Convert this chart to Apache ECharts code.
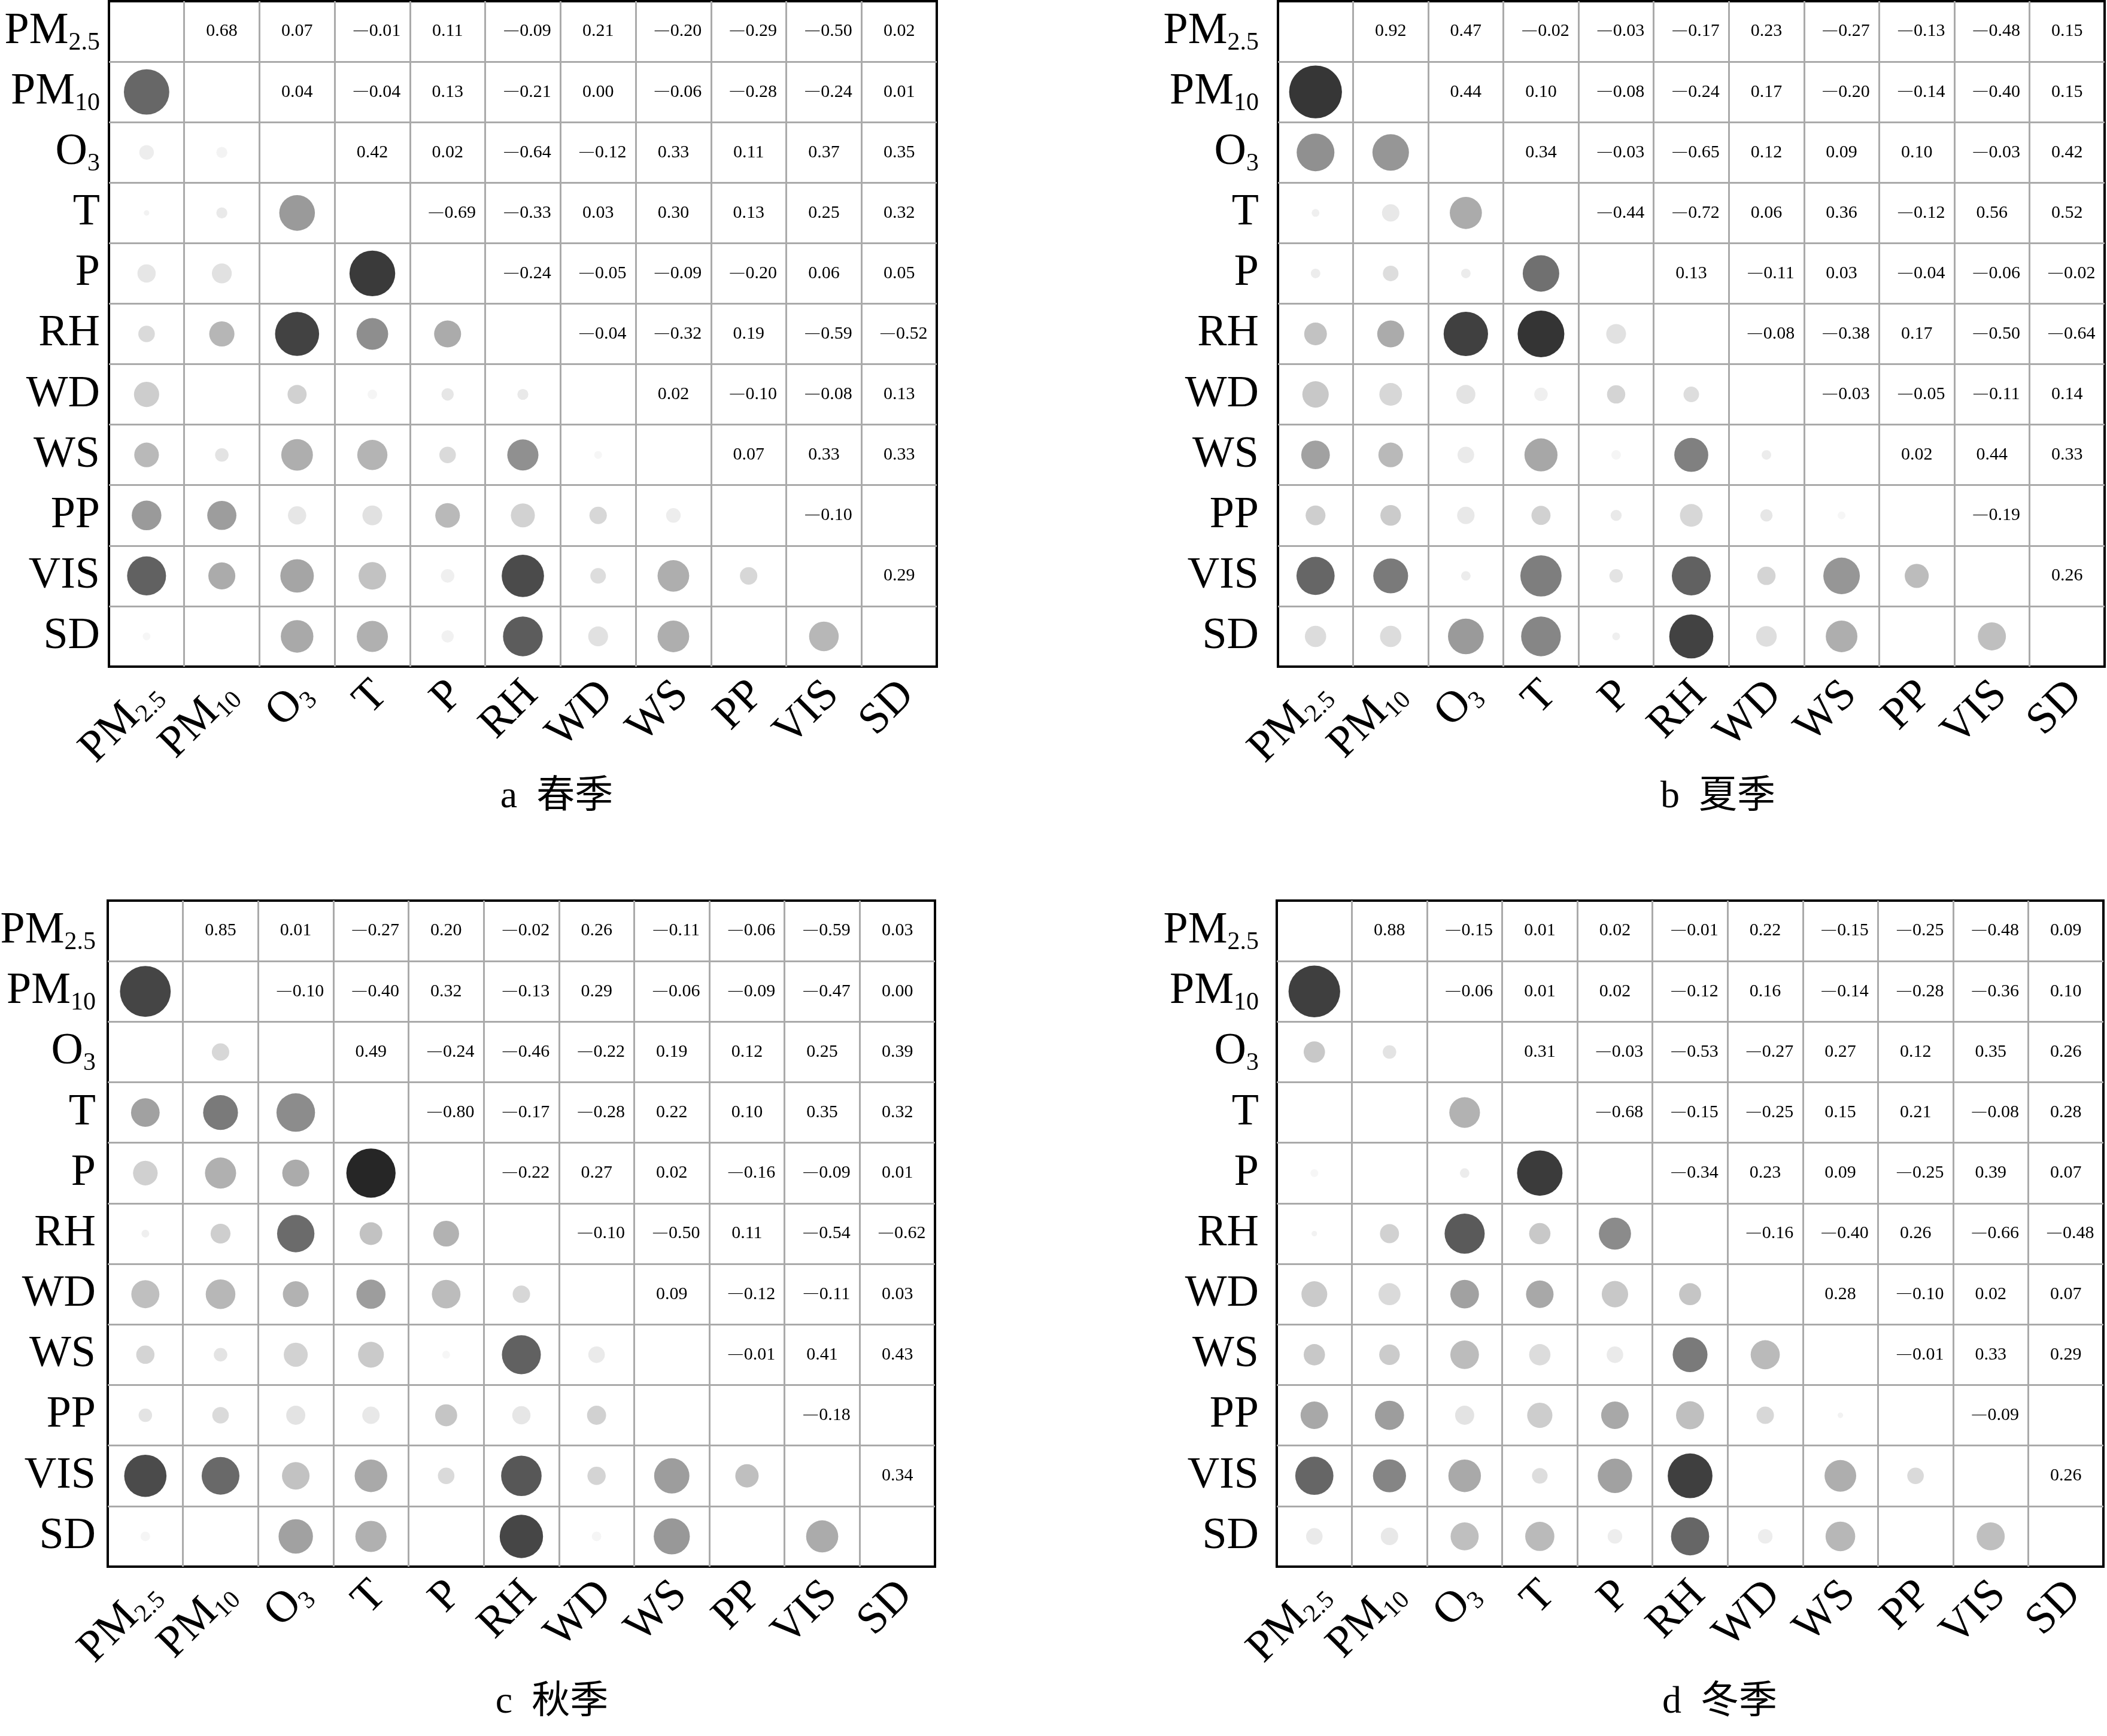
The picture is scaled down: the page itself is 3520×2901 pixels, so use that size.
<!DOCTYPE html>
<html><head><meta charset="utf-8">
<script src="https://cdn.jsdelivr.net/npm/echarts@6.0.0/dist/echarts.min.js"></script>
<style>html,body{margin:0;padding:0;background:#fff}#c{width:3520px;height:2901px}</style>
</head><body><div id="c"></div>
<script>
// ---------------- data ----------------
const variables = ['PM2.5','PM10','O3','T','P','RH','WD','WS','PP','VIS','SD'];

// upper triangle: row i lists correlations with columns i+1 .. 10 (null = not shown)
const springUpper = [
  [0.68, 0.07, -0.01, 0.11, -0.09, 0.21, -0.20, -0.29, -0.50, 0.02],
  [0.04, -0.04, 0.13, -0.21, 0.00, -0.06, -0.28, -0.24, 0.01],
  [0.42, 0.02, -0.64, -0.12, 0.33, 0.11, 0.37, 0.35],
  [-0.69, -0.33, 0.03, 0.30, 0.13, 0.25, 0.32],
  [-0.24, -0.05, -0.09, -0.20, 0.06, 0.05],
  [-0.04, -0.32, 0.19, -0.59, -0.52],
  [0.02, -0.10, -0.08, 0.13],
  [0.07, 0.33, 0.33],
  [-0.10, null],
  [0.29]
];
const summerUpper = [
  [0.92, 0.47, -0.02, -0.03, -0.17, 0.23, -0.27, -0.13, -0.48, 0.15],
  [0.44, 0.10, -0.08, -0.24, 0.17, -0.20, -0.14, -0.40, 0.15],
  [0.34, -0.03, -0.65, 0.12, 0.09, 0.10, -0.03, 0.42],
  [-0.44, -0.72, 0.06, 0.36, -0.12, 0.56, 0.52],
  [0.13, -0.11, 0.03, -0.04, -0.06, -0.02],
  [-0.08, -0.38, 0.17, -0.50, -0.64],
  [-0.03, -0.05, -0.11, 0.14],
  [0.02, 0.44, 0.33],
  [-0.19, null],
  [0.26]
];
const autumnUpper = [
  [0.85, 0.01, -0.27, 0.20, -0.02, 0.26, -0.11, -0.06, -0.59, 0.03],
  [-0.10, -0.40, 0.32, -0.13, 0.29, -0.06, -0.09, -0.47, 0.00],
  [0.49, -0.24, -0.46, -0.22, 0.19, 0.12, 0.25, 0.39],
  [-0.80, -0.17, -0.28, 0.22, 0.10, 0.35, 0.32],
  [-0.22, 0.27, 0.02, -0.16, -0.09, 0.01],
  [-0.10, -0.50, 0.11, -0.54, -0.62],
  [0.09, -0.12, -0.11, 0.03],
  [-0.01, 0.41, 0.43],
  [-0.18, null],
  [0.34]
];
const winterUpper = [
  [0.88, -0.15, 0.01, 0.02, -0.01, 0.22, -0.15, -0.25, -0.48, 0.09],
  [-0.06, 0.01, 0.02, -0.12, 0.16, -0.14, -0.28, -0.36, 0.10],
  [0.31, -0.03, -0.53, -0.27, 0.27, 0.12, 0.35, 0.26],
  [-0.68, -0.15, -0.25, 0.15, 0.21, -0.08, 0.28],
  [-0.34, 0.23, 0.09, -0.25, 0.39, 0.07],
  [-0.16, -0.40, 0.26, -0.66, -0.48],
  [0.28, -0.10, 0.02, 0.07],
  [-0.01, 0.33, 0.29],
  [-0.09, null],
  [0.26]
];
// lower-triangle cells where no circle is drawn: [row, column]
const springNoCircle = [['WD','PM10'], ['SD','PM10'], ['P','O3']];
const summerNoCircle = [];
const autumnNoCircle = [['O3','PM2.5'], ['SD','PM10'], ['SD','P'], ['PP','WS']];
const winterNoCircle = [['T','PM2.5'], ['T','PM10'], ['P','PM10'], ['VIS','WD']];
const captions = ['a  春季', 'b  夏季', 'c  秋季', 'd  冬季'];

// ---------------- styling helpers ----------------
const FONT = '"Liberation Serif", "DejaVu Serif", serif';
const CAPFONT = '"Liberation Serif", "Noto Sans CJK SC", serif';
const posStops = [[0,250],[0.1,232],[0.2,208],[0.3,180],[0.45,148],[0.6,118],[0.8,80],[0.92,54],[1,40]];
const negStops = [[0,245],[0.1,215],[0.2,185],[0.3,150],[0.4,122],[0.5,97],[0.6,73],[0.7,56],[0.8,38],[1,10]];
function interp(stops, a) {
  for (let k = 1; k < stops.length; k++) {
    if (a <= stops[k][0]) {
      const [x0, y0] = stops[k-1], [x1, y1] = stops[k];
      return y0 + (y1 - y0) * (a - x0) / (x1 - x0);
    }
  }
  return stops[stops.length-1][1];
}
function grayFor(r) {
  const g = Math.round(r >= 0 ? interp(posStops, r) : interp(negStops, -r));
  return 'rgb(' + g + ',' + g + ',' + g + ')';
}
function fmtRich(v) {
  const t = Math.abs(v).toFixed(2);
  return v < 0 ? '{mi|\u2014}{n|' + t + '}' : '{n|' + t + '}';
}
function labelParts(name) {
  if (name === 'PM2.5') return ['PM', '2.5'];
  if (name === 'PM10') return ['PM', '10'];
  if (name === 'O3') return ['O', '3'];
  return [name, ''];
}
const MAIN = 74, SUB = 42;
const mctx = document.createElement('canvas').getContext('2d');
function textW(t, size) { mctx.font = size + 'px ' + FONT; return mctx.measureText(t).width; }

const baseRich = {
  m: { fontSize: MAIN, fontFamily: FONT, color: '#000', lineHeight: 80 },
  s: { fontSize: SUB, fontFamily: FONT, color: '#000', lineHeight: 50, verticalAlign: 'bottom' }
};
// rotated column labels: right-middle end of each label sits at (tick + EX, axis + EY)
const EX = 14, EY = 36;
const xRich = Object.assign({}, baseRich);
variables.forEach((v, k) => {
  const p = labelParts(v);
  const w = textW(p[0], MAIN) + (p[1] ? textW(p[1], SUB) : 0);
  const L = w / 2 + 0.7071 * (EY - EX);   // local left shift of the text centre
  const D = 0.7071 * (EX + EY);           // local downward shift of the text centre
  xRich['v' + k] = { fontSize: 1, lineHeight: 2 * D };
  xRich['h' + k] = { fontSize: 1, width: 2 * L, lineHeight: 1 };
});
const numRich = {
  n: { fontSize: 30, fontFamily: FONT, color: '#000', lineHeight: 34 },
  mi: { fontSize: 24, fontFamily: FONT, color: '#000', lineHeight: 34, padding: [0, 2, 3, 0] }
};
function richName(v) {
  const p = labelParts(v);
  return '{m|' + p[0] + '}' + (p[1] ? '{s|' + p[1] + '}' : '');
}

const panels = [
  { upper: springUpper, hidden: springNoCircle, grid: { left: 182, top: 2, width: 1383, height: 1112 }, ym: 15, cap: [930, 1332] },
  { upper: summerUpper, hidden: summerNoCircle, grid: { left: 2135, top: 2, width: 1381, height: 1112 }, ym: 32, cap: [2870, 1332] },
  { upper: autumnUpper, hidden: autumnNoCircle, grid: { left: 180, top: 1505, width: 1382, height: 1113 }, ym: 20, cap: [922, 2845] },
  { upper: winterUpper, hidden: winterNoCircle, grid: { left: 2133, top: 1505, width: 1381, height: 1113 }, ym: 30, cap: [2873, 2845] }
];

const option = { animation: false, backgroundColor: '#fff', grid: [], xAxis: [], yAxis: [], series: [], graphic: [] };

panels.forEach((pn, gi) => {
  option.grid.push(Object.assign({ show: true, borderColor: '#000', borderWidth: 4, backgroundColor: 'transparent', containLabel: false, outerBoundsMode: 'none' }, pn.grid));
  option.xAxis.push({
    type: 'category', gridIndex: gi, data: variables, position: 'bottom',
    axisLine: { show: false }, axisTick: { show: false },
    splitLine: { show: true, interval: 0, showMinLine: false, showMaxLine: false, lineStyle: { color: '#aaaaaa', width: 3 } },
    axisLabel: {
      interval: 0, rotate: 45, margin: 0, align: 'center', verticalAlign: 'middle',
      formatter: (value, index) => '{v' + index + '| }\n' + richName(value) + '{h' + index + '| }',
      rich: xRich
    }
  });
  option.yAxis.push({
    type: 'category', gridIndex: gi, data: variables, inverse: true,
    axisLine: { show: false }, axisTick: { show: false },
    splitLine: { show: true, interval: 0, showMinLine: false, showMaxLine: false, lineStyle: { color: '#aaaaaa', width: 3 } },
    axisLabel: { interval: 0, margin: pn.ym, formatter: (value) => richName(value), rich: baseRich }
  });

  const hiddenSet = new Set(pn.hidden.map(h => h[0] + '|' + h[1]));
  const circles = [], texts = [];
  pn.upper.forEach((row, i) => {
    row.forEach((v, k) => {
      const j = i + 1 + k;
      if (v === null) return;
      texts.push({ value: [variables[j], variables[i], v], label: { offset: [v < 0 ? 8 : 0, 0] } });
      if (!hiddenSet.has(variables[j] + '|' + variables[i])) circles.push([variables[i], variables[j], v]);
    });
  });
  option.series.push({
    type: 'scatter', xAxisIndex: gi, yAxisIndex: gi, data: circles, symbol: 'circle',
    symbolSize: (val) => 92 * Math.sqrt(Math.abs(val[2])),
    itemStyle: { color: (p) => grayFor(p.value[2]), opacity: 1 },
    emphasis: { disabled: true }, silent: true
  });
  option.series.push({
    type: 'scatter', xAxisIndex: gi, yAxisIndex: gi, data: texts, symbolSize: 1,
    itemStyle: { color: 'rgba(0,0,0,0)', opacity: 1 },
    label: { show: true, position: 'inside', formatter: (p) => fmtRich(p.value[2]), rich: numRich },
    emphasis: { disabled: true }, silent: true
  });
  option.graphic.push({
    type: 'text', x: pn.cap[0], y: pn.cap[1],
    style: { text: captions[gi], font: '64px ' + CAPFONT, fill: '#000', textAlign: 'center', textVerticalAlign: 'middle' }
  });
});

const chart = echarts.init(document.getElementById('c'), null, { renderer: 'canvas' });
chart.setOption(option);
</script>
</body></html>
